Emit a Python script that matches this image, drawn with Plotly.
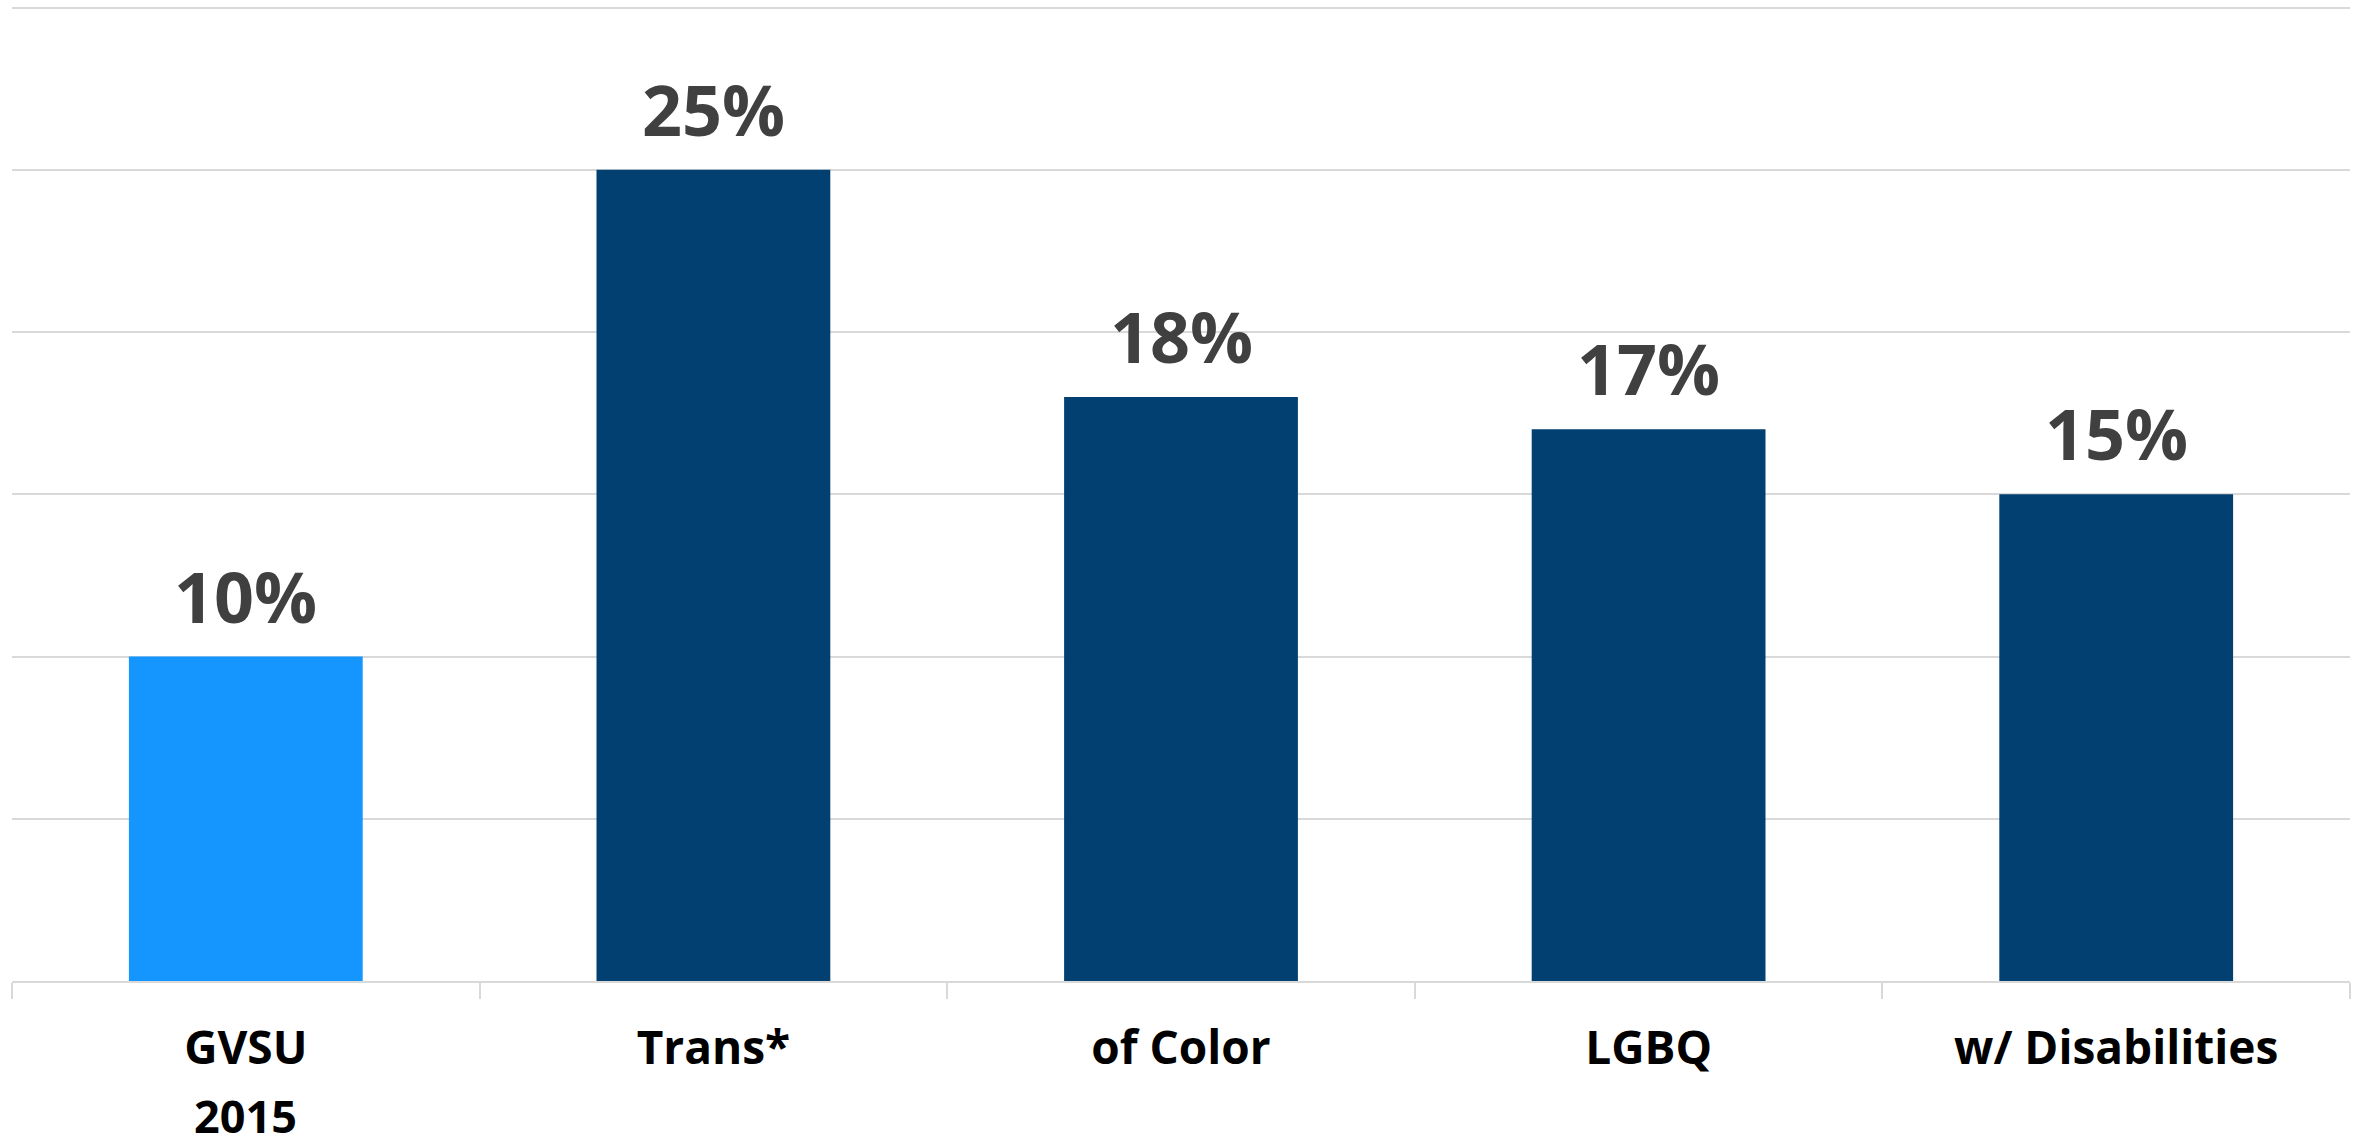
import plotly.graph_objects as go

categories = ["GVSU", "Trans*", "of Color", "LGBQ", "w/ Disabilities"]
values = [10, 25, 18, 17, 15]
value_labels = ["10%", "25%", "18%", "17%", "15%"]
bar_colors = ["#1496fe", "#034072", "#034072", "#034072", "#034072"]
sub_label = {"GVSU": "2015"}

fig = go.Figure()
fig.add_trace(go.Bar(
    x=categories, y=values,
    marker=dict(color=bar_colors, line=dict(width=0)),
    hoverinfo="skip",
))

for c, v, t in zip(categories, values, value_labels):
    fig.add_annotation(x=c, y=v, text="<b>" + t + "</b>", showarrow=False, yanchor="bottom",
                       yshift=11, font=dict(family="Open Sans", size=70, color="#404040"))

for c, t in sub_label.items():
    fig.add_annotation(x=c, y=0, text="<b>" + t + "</b>", showarrow=False, yanchor="top",
                       yref="y", yshift=-103, borderpad=0,
                       font=dict(family="Open Sans", size=45, color="#000000"))

fig.update_layout(
    width=2367, height=1146,
    margin=dict(l=12, r=17, t=3, b=165),
    paper_bgcolor="white", plot_bgcolor="white",
    bargap=0.5, showlegend=False,
    xaxis=dict(
        tickmode="array", tickvals=categories,
        ticktext=["<b>" + c + "</b>" for c in categories],
        tickson="boundaries", ticks="outside", ticklen=16, tickwidth=2, tickcolor="#d9d9d9",
        showline=True, linecolor="#d9d9d9", linewidth=2,
        showgrid=False, ticklabelstandoff=26, automargin=False,
        tickfont=dict(family="Open Sans", size=46, color="#000000"),
    ),
    yaxis=dict(
        range=[0, 30.14], tickvals=[5, 10, 15, 20, 25, 30], showticklabels=False,
        showgrid=True, gridcolor="#d9d9d9", gridwidth=2,
        zeroline=False, showline=False, automargin=False,
    ),
)

fig.write_html("out.html", config={"displayModeBar": False},
               post_script="document.body.style.margin='0';")
